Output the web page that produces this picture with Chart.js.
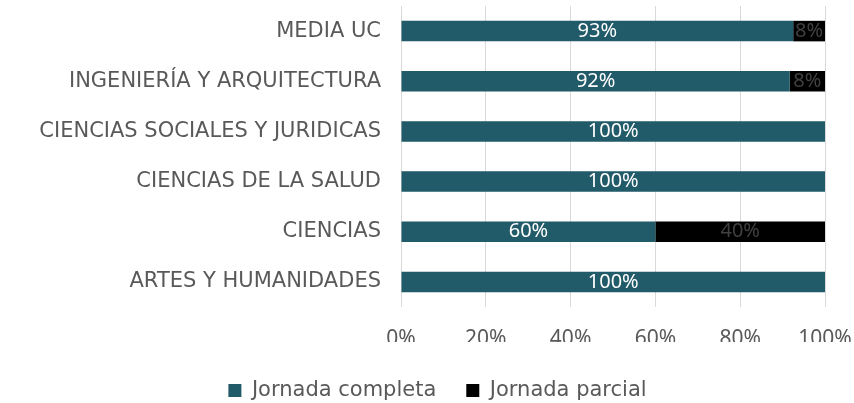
<!DOCTYPE html>
<html>
<head>
<meta charset="utf-8">
<script src="https://cdn.jsdelivr.net/npm/chart.js@4"></script>
<style>
  html, body { margin: 0; padding: 0; background: #fff; }
  #wrap { width: 854px; height: 403px; }
</style>
</head>
<body>
<div id="wrap"><canvas id="chart" width="854" height="403"></canvas></div>
<script>
const categories = [
  'MEDIA UC',
  'INGENIERÍA Y ARQUITECTURA',
  'CIENCIAS SOCIALES Y JURIDICAS',
  'CIENCIAS DE LA SALUD',
  'CIENCIAS',
  'ARTES Y HUMANIDADES',
];
const jornadaCompleta = [92.5, 91.7, 100, 100, 60, 100];
const jornadaParcial = [7.5, 8.3, 0, 0, 40, 0];
const xTicks = [0, 20, 40, 60, 80, 100];

const labelColors = ['#ffffff', '#404040'];

// % label in the middle of each segment
const barLabels = {
  id: 'barLabels',
  afterDatasetsDraw(chart) {
    const { ctx } = chart;
    ctx.save();
    ctx.font = '20px "Noto Sans"';
    ctx.textAlign = 'center';
    ctx.textBaseline = 'middle';
    chart.data.datasets.forEach((ds, i) => {
      chart.getDatasetMeta(i).data.forEach((bar, j) => {
        const v = ds.data[j];
        if (!v) return;
        const p = bar.getProps(['x', 'y', 'base'], true);
        ctx.fillStyle = labelColors[i];
        ctx.fillText(Math.round(v) + '%', (p.x + p.base) / 2, p.y);
      });
    });
    ctx.restore();
  },
};

// nudge the legend a bit right / down, like the original
const legendShift = {
  id: 'legendShift',
  afterLayout(chart) {
    const lg = chart.legend;
    lg.left += 25; lg.right += 25;
    lg.top += 8; lg.bottom += 8;
  },
};

const canvas = document.querySelector('#chart');
Chart.defaults.font.family = '"DejaVu Sans", Verdana, sans-serif';
Chart.defaults.color = '#595959';

new Chart(canvas, {
  type: 'bar',
  data: {
    labels: categories,
    datasets: [{
      label: 'Jornada completa',
      data: jornadaCompleta,
      backgroundColor: '#215a68',
      barPercentage: 0.41,
      categoryPercentage: 1,
    }, {
      label: 'Jornada parcial',
      data: jornadaParcial,
      backgroundColor: '#000000',
      barPercentage: 0.41,
      categoryPercentage: 1,
    }],
  },
  options: {
    indexAxis: 'y',
    responsive: false,
    animation: false,
    layout: { padding: { top: 6, right: 29, bottom: 0, left: 0 } },
    scales: {
      x: {
        stacked: true,
        min: 0,
        max: 100,
        afterBuildTicks: (scale) => { scale.ticks = xTicks.map((v) => ({ value: v })); },
        afterFit: (scale) => { scale.height = 35; },
        ticks: {
          padding: 0,
          font: { family: '"Noto Sans"', size: 21 },
          callback: (v) => v + '%',
        },
        grid: { color: '#d9d9d9', tickLength: 19, tickColor: 'rgba(0,0,0,0)' },
        border: { display: false },
      },
      y: {
        stacked: true,
        afterFit: (scale) => { scale.width = 401; },
        ticks: { padding: 0, font: { size: 21, lineHeight: 0.5 } },
        grid: { display: false, tickLength: 20 },
        border: { display: false },
      },
    },
    plugins: {
      legend: {
        position: 'bottom',
        labels: { boxWidth: 13, boxHeight: 13, padding: 30, color: '#595959', font: { size: 21 } },
      },
      tooltip: { enabled: false },
    },
  },
  plugins: [barLabels, legendShift],
});
</script>
</body>
</html>
